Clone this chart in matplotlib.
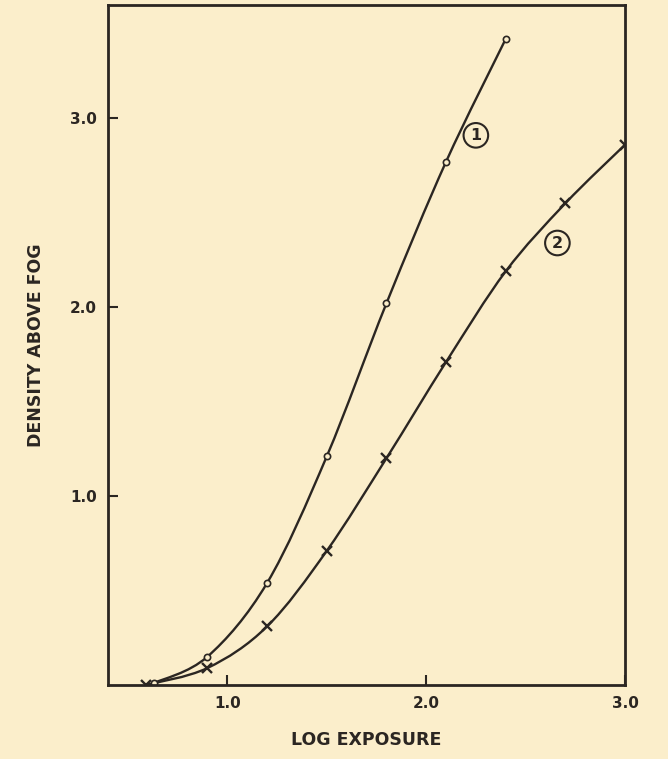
import numpy as np
import matplotlib.pyplot as plt
from matplotlib.path import Path
from matplotlib.patches import PathPatch

# curve 1 (circles)
x1 = [0.63, 0.9, 1.2, 1.5, 1.8, 2.1, 2.4]
y1 = [0.01, 0.15, 0.54, 1.21, 2.02, 2.77, 3.42]
# curve 2 (crosses)
x2 = [0.59, 0.9, 1.2, 1.5, 1.8, 2.1, 2.4, 2.7, 3.0]
y2 = [0.0, 0.09, 0.31, 0.71, 1.20, 1.71, 2.19, 2.55, 2.86]

xticks = [1.0, 2.0, 3.0]
yticks = [1.0, 2.0, 3.0]

bg = '#fbeecb'
ink = '#2b2622'


def smooth_path(xs, ys):
    # Catmull-Rom through the points, drawn as cubic bezier by the Path
    p = np.column_stack([xs, ys])
    verts = [p[0]]
    codes = [Path.MOVETO]
    for i in range(len(p) - 1):
        p0 = p[i - 1] if i > 0 else p[i]
        p3 = p[i + 2] if i + 2 < len(p) else p[i + 1]
        c1 = p[i] + (p[i + 1] - p0) / 6
        c2 = p[i + 1] - (p3 - p[i]) / 6
        verts += [c1, c2, p[i + 1]]
        codes += [Path.CURVE4] * 3
    return Path(verts, codes)


fig = plt.figure(figsize=(6.68, 7.59), dpi=100, facecolor=bg)
ax = fig.add_axes([108 / 668, 74 / 759, 517 / 668, 680 / 759])
ax.set_facecolor(bg)

for xs, ys in [(x1, y1), (x2, y2)]:
    ax.add_patch(PathPatch(smooth_path(xs, ys), fill=False, lw=1.7, ec=ink))

ax.plot(x1, y1, 'o', ms=4.5, mfc=bg, mec=ink, mew=1.2, ls='none')
ax.plot(x2, y2, 'x', ms=7, mec=ink, mew=1.7, ls='none')

# curve labels
for lx, ly, t in [(2.25, 2.91, '1'), (2.66, 2.34, '2')]:
    ax.text(lx, ly, t, ha='center', va='center', fontsize=11.5, color=ink,
            fontweight='bold',
            bbox=dict(boxstyle='circle,pad=0.3', fc='none', ec=ink, lw=1.5))

ax.set_xlim(0.4, 3.0)
ax.set_ylim(0, 3.6)
ax.set_xticks(xticks)
ax.set_yticks(yticks)
ax.set_xticklabels(['1.0', '2.0', '3.0'], fontweight='bold')
ax.set_yticklabels(['1.0', '2.0', '3.0'], fontweight='bold')
ax.tick_params(direction='in', length=7, width=1.5, colors=ink,
               labelsize=11, pad=8)
for s in ax.spines.values():
    s.set_linewidth(2.0)
    s.set_color(ink)

ax.set_xlabel('LOG EXPOSURE', fontsize=12.5, fontweight='bold', color=ink,
              labelpad=14)
ax.set_ylabel('DENSITY ABOVE FOG', fontsize=12.5, fontweight='bold', color=ink,
              labelpad=18)

plt.savefig('out.png', dpi=100, facecolor=bg)
